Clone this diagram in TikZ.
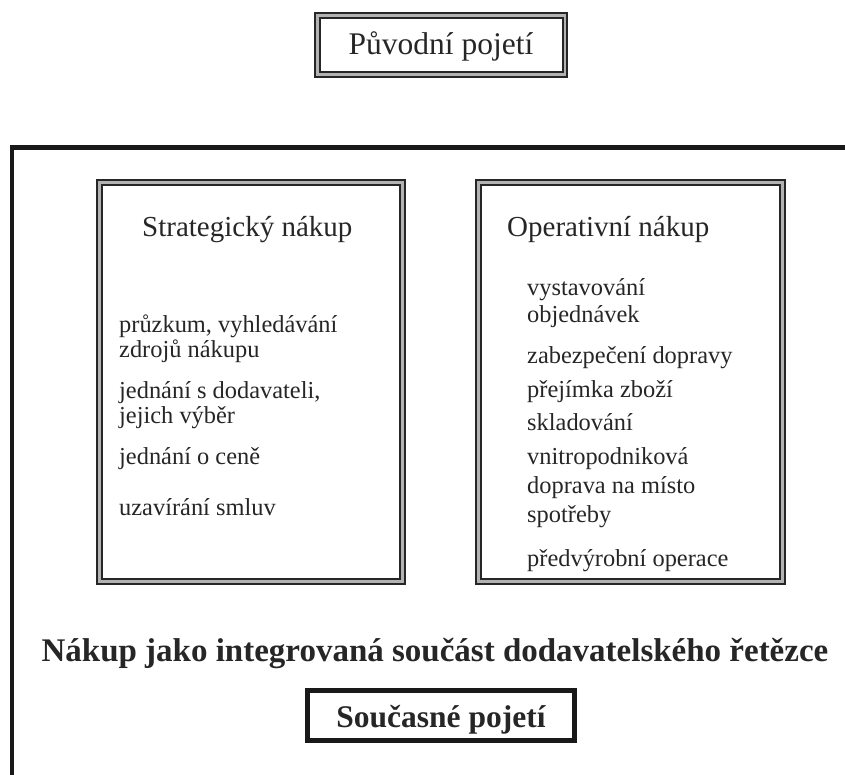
\documentclass[tikz,border=0pt]{standalone}
\usepackage{fontspec}
\setmainfont{Liberation Serif}
\begin{document}
\begin{tikzpicture}[x=1pt,y=-1pt,
  dbl/.style={draw=black!85, line width=2.2pt, double=black!30, double distance=2.2pt},
  heavy/.style={draw=black!90, line width=4.5pt},
  item/.style={anchor=base west, inner sep=0pt, font=\fontsize{24.4}{25}\selectfont, text=black!85},
  head/.style={anchor=base west, inner sep=0pt, font=\fontsize{29}{32}\selectfont, text=black!85},
  title/.style={anchor=base, inner sep=0pt, text=black!85}]
\useasboundingbox (0,0) rectangle (845,775);

% outer frame (open to the right and bottom)
\coordinate (fbl) at (12,775);
\coordinate (ftl) at (12,147.5);
\coordinate (ftr) at (845,147.5);
\draw[heavy] (fbl) -- (ftl) -- (ftr);

% top box
\draw[dbl] (317.5,15.5) rectangle (565,74.5);
\node[title, font=\fontsize{31.5}{34}\selectfont] (orig) at (441,55) {Původní pojetí};

% inner boxes
\draw[dbl] (99.5,182.5) rectangle (402.5,581.5);
\draw[dbl] (478.5,182.5) rectangle (782.5,581.5);

\node[head] (strat) at (142,237) {Strategický nákup};
\node[head] (oper) at (507,237) {Operativní nákup};

% left items
\node[item] (l1) at (119,332) {průzkum, vyhledávání};
\node[item] (l2) at (119,357) {zdrojů nákupu};
\node[item] (l3) at (119,398) {jednání s dodavateli,};
\node[item] (l4) at (119,423) {jejich výběr};
\node[item] (l5) at (119,464) {jednání o ceně};
\node[item] (l6) at (119,515) {uzavírání smluv};

% right items
\node[item] (r1) at (527,295) {vystavování};
\node[item] (r2) at (527,323) {objednávek};
\node[item] (r3) at (527,363) {zabezpečení dopravy};
\node[item] (r4) at (527,397) {přejímka zboží};
\node[item] (r5) at (527,430) {skladování};
\node[item] (r6) at (527,464) {vnitropodniková};
\node[item] (r7) at (527,493) {doprava na místo};
\node[item] (r8) at (527,522) {spotřeby};
\node[item] (r9) at (527,566) {předvýrobní operace};

% bottom line
\node[title, font=\fontsize{33}{36}\selectfont\bfseries] (integ) at (435,661) {Nákup jako integrovaná součást dodavatelského řetězce};

% bottom box
\draw[heavy] (307.5,690.5) rectangle (574.5,740.5);
\node[title, font=\fontsize{31.5}{34}\selectfont\bfseries] (curr) at (441,727) {Současné pojetí};
\end{tikzpicture}
\end{document}
